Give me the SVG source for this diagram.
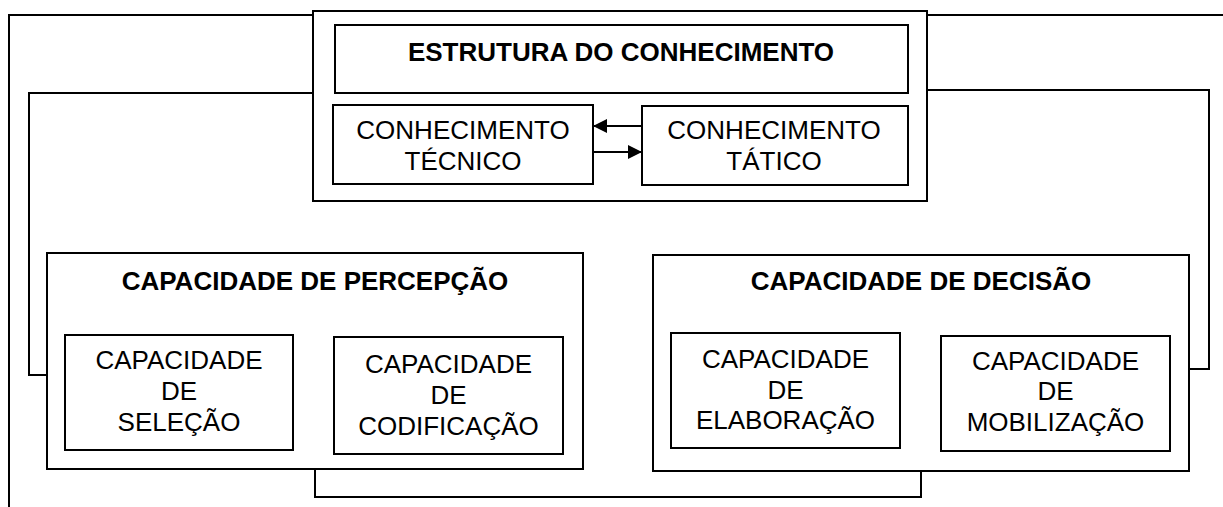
<svg xmlns="http://www.w3.org/2000/svg" width="1223" height="507" viewBox="0 0 1223 507">
  <style>
    .box { fill: #ffffff; stroke: #000000; stroke-width: 2; }
    .ln { fill: none; stroke: #000000; stroke-width: 2; }
    .t { font-family: "Liberation Sans", Arial, sans-serif; font-size: 26px; fill: #000000; text-anchor: middle; }
    .b { font-weight: bold; }
  </style>
  <defs>
    <marker id="ah" markerUnits="userSpaceOnUse" markerWidth="14" markerHeight="14" refX="14" refY="7" orient="auto">
      <path d="M0,0 L14,7 L0,14 Z" fill="#000000"/>
    </marker>
  </defs>
  <rect width="1223" height="507" fill="#ffffff"/>

  <g id="connectors">
    <polyline class="ln" points="313,15 9,15 9,507"/>
    <line class="ln" x1="927" y1="15" x2="1223" y2="15"/>
    <polyline class="ln" points="313,93 29,93 29,375 47,375"/>
    <polyline class="ln" points="927,90 1209,90 1209,369 1189,369"/>
    <polyline class="ln" points="315,469 315,497 921,497 921,471"/>
    <line class="ln" x1="293" y1="368" x2="334" y2="368"/>
    <line class="ln" x1="293" y1="402" x2="334" y2="402"/>
    <line class="ln" x1="900" y1="375" x2="941" y2="375"/>
    <line class="ln" x1="900" y1="411" x2="941" y2="411"/>
    <line class="ln" x1="642" y1="126" x2="593" y2="126" marker-end="url(#ah)"/>
    <line class="ln" x1="593" y1="152" x2="642" y2="152" marker-end="url(#ah)"/>
  </g>

  <g id="estrutura">
    <rect class="box" x="313" y="11" width="614" height="190" style="fill:none"/>
    <rect class="box" x="335" y="25" width="573" height="68"/>
    <text class="t b" x="621" y="61">ESTRUTURA DO CONHECIMENTO</text>
  </g>
  <g id="tecnico">
    <rect class="box" x="333" y="105" width="260" height="79"/>
    <text class="t" x="463" y="139">CONHECIMENTO</text>
    <text class="t" x="463" y="170">TÉCNICO</text>
  </g>
  <g id="tatico">
    <rect class="box" x="642" y="106" width="266" height="79"/>
    <text class="t" x="774" y="139">CONHECIMENTO</text>
    <text class="t" x="774" y="170">TÁTICO</text>
  </g>

  <g id="percepcao">
    <rect class="box" x="47" y="253" width="536" height="216"/>
    <text class="t b" x="315" y="290">CAPACIDADE DE PERCEPÇÃO</text>
  </g>
  <g id="selecao">
    <rect class="box" x="65" y="335" width="228" height="115"/>
    <text class="t" x="179" y="369">CAPACIDADE</text>
    <text class="t" x="179" y="400">DE</text>
    <text class="t" x="179" y="431">SELEÇÃO</text>
  </g>
  <g id="codificacao">
    <rect class="box" x="334" y="337" width="229" height="117"/>
    <text class="t" x="448.5" y="373">CAPACIDADE</text>
    <text class="t" x="448.5" y="404">DE</text>
    <text class="t" x="448.5" y="435">CODIFICAÇÃO</text>
  </g>

  <g id="decisao">
    <rect class="box" x="653" y="255" width="536" height="216"/>
    <text class="t b" x="921" y="290">CAPACIDADE DE DECISÃO</text>
  </g>
  <g id="elaboracao">
    <rect class="box" x="671" y="333" width="229" height="115"/>
    <text class="t" x="785.5" y="368">CAPACIDADE</text>
    <text class="t" x="785.5" y="399">DE</text>
    <text class="t" x="785.5" y="429">ELABORAÇÃO</text>
  </g>
  <g id="mobilizacao">
    <rect class="box" x="941" y="336" width="229" height="115"/>
    <text class="t" x="1055.5" y="370">CAPACIDADE</text>
    <text class="t" x="1055.5" y="400">DE</text>
    <text class="t" x="1055.5" y="431">MOBILIZAÇÃO</text>
  </g>
</svg>
